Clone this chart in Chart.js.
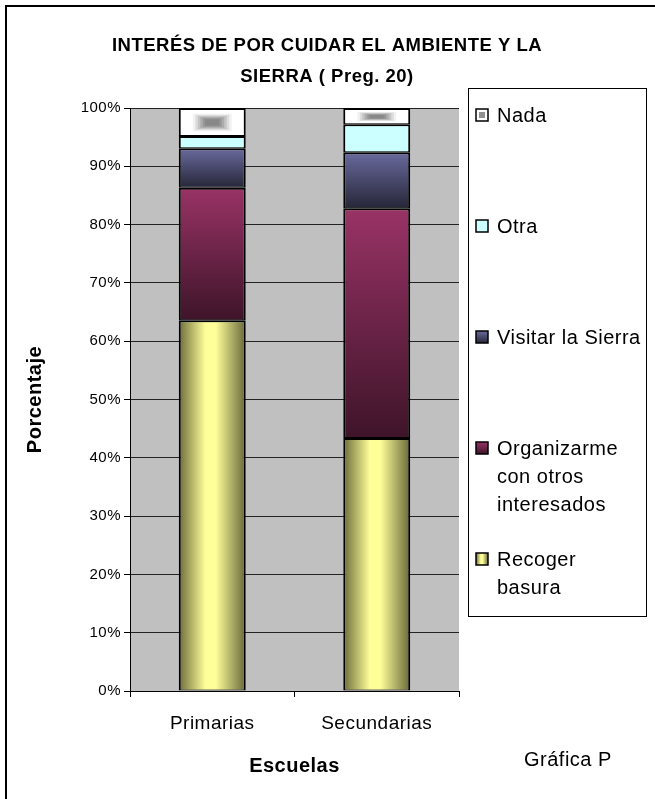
<!DOCTYPE html>
<html>
<head>
<meta charset="utf-8">
<script src="https://cdn.jsdelivr.net/npm/chart.js@4.4.1/dist/chart.umd.min.js"></script>
<style>
  html, body { margin: 0; padding: 0; background: #fff; }
  canvas { display: block; }
</style>
</head>
<body>
<canvas id="chart" width="655" height="799"></canvas>
<script>
// values (percent of each school)
const schools = ['Primarias', 'Secundarias'];
const recogerBasura = [63.6, 43.4];
const organizarme = [22.7, 39.4];
const visitarSierra = [6.8, 9.6];
const otra = [2.1, 4.8];
const nada = [4.8, 2.8];
const seriesNames = ['Recoger\nbasura', 'Organizarme\ncon otros\ninteresados', 'Visitar la Sierra', 'Otra', 'Nada'];
const titleLines = ['INTERÉS DE POR CUIDAR EL AMBIENTE Y LA', 'SIERRA ( Preg. 20)'];
const xTitle = 'Escuelas';
const yTitle = 'Porcentaje';
const footNote = 'Gráfica P';

const FONT = '"Liberation Sans", Arial, sans-serif';

// paint helpers, one per series
function yellowFill(ctx, l, t, r, b) {
  const g = ctx.createLinearGradient(l, 0, r, 0);
  g.addColorStop(0, '#6c6c3a');
  g.addColorStop(0.4, '#ffff99');
  g.addColorStop(0.55, '#ffff99');
  g.addColorStop(1, '#68683a');
  return g;
}
function maroonFill(ctx, l, t, r, b) {
  const g = ctx.createLinearGradient(0, t, 0, b);
  g.addColorStop(0, '#993366');
  g.addColorStop(1, '#3e1429');
  return g;
}
function blueFill(ctx, l, t, r, b) {
  const g = ctx.createLinearGradient(0, t, 0, b);
  g.addColorStop(0, '#6a6a9e');
  g.addColorStop(1, '#262638');
  return g;
}
function cyanFill() { return '#ccffff'; }
function whiteFill() { return '#ffffff'; }
const paints = [yellowFill, maroonFill, blueFill, cyanFill, whiteFill];

// greyish blurred block in the middle of the "Nada" pieces
function nadaSpot(ctx, l, t, r, b) {
  const cx = (l + r) / 2, cy = (t + b) / 2;
  const w = r - l, h = b - t;
  const steps = ['#f2f2f2', '#dcdcdc', '#c4c4c4', '#acacac', '#969696', '#888888'];
  steps.forEach((c, k) => {
    const fw = w * (0.62 - k * 0.08), fh = h * (0.7 - k * 0.09);
    ctx.fillStyle = c;
    ctx.fillRect(cx - fw / 2, cy - fh / 2, fw, fh);
  });
}

function setSpacing(ctx) {
  if ('letterSpacing' in ctx) ctx.letterSpacing = '0.5px';
}

const framePlugin = {
  id: 'frame',
  beforeUpdate(chart) { setSpacing(chart.ctx); },
  beforeDraw(chart) {
    const {ctx, chartArea: a} = chart;
    setSpacing(ctx);
    ctx.save();
    ctx.fillStyle = '#ffffff';
    ctx.fillRect(0, 0, chart.width, chart.height);
    ctx.fillStyle = '#c0c0c0';
    ctx.fillRect(a.left, a.top, a.right - a.left, a.bottom - a.top);
    ctx.restore();
  },
  beforeDatasetsDraw(chart) {
    const ctx = chart.ctx;
    chart.data.datasets.forEach((ds, i) => {
      chart.getDatasetMeta(i).data.forEach(el => {
        const l = el.x - el.width / 2, r = el.x + el.width / 2;
        const t = Math.min(el.y, el.base), b = Math.max(el.y, el.base);
        el.options = Object.assign({}, el.options, {backgroundColor: paints[i](ctx, l, t, r, b)});
      });
    });
  },
  afterDatasetsDraw(chart) {
    const ctx = chart.ctx;
    const last = chart.data.datasets.length - 1;
    ctx.save();
    chart.getDatasetMeta(last).data.forEach(el => {
      const l = el.x - el.width / 2 + 2, r = el.x + el.width / 2 - 2;
      const t = Math.min(el.y, el.base) + 2, b = Math.max(el.y, el.base) - 1;
      nadaSpot(ctx, l, t, r, b);
    });
    ctx.restore();
  },
  afterDraw(chart) {
    const ctx = chart.ctx;
    ctx.save();
    setSpacing(ctx);
    ctx.fillStyle = '#000';

    // title
    ctx.font = `bold 18.5px ${FONT}`;
    ctx.textAlign = 'center';
    ctx.textBaseline = 'alphabetic';
    ctx.fillText(titleLines[0], 327, 51);
    ctx.fillText(titleLines[1], 327, 82);

    // legend box
    ctx.lineWidth = 1;
    ctx.strokeStyle = '#000';
    ctx.strokeRect(468.5, 88.5, 178, 528);
    ctx.font = `20px ${FONT}`;
    ctx.textAlign = 'left';
    const n = chart.data.datasets.length;
    for (let k = 0; k < n; k++) {
      const i = n - 1 - k;
      const capY = 115 + k * 111;
      const sx = 476, sy = capY - 6, s = 12;
      ctx.fillStyle = paints[i](ctx, sx, sy, sx + s, sy + s);
      ctx.fillRect(sx, sy, s, s);
      if (i === n - 1) {
        ctx.fillStyle = '#909090';
        ctx.fillRect(sx + 3, sy + 3, s - 6, s - 6);
      }
      ctx.lineWidth = 1.5;
      ctx.strokeRect(sx, sy, s, s);
      ctx.fillStyle = '#000';
      seriesNames[i].split('\n').forEach((line, j) => {
        ctx.fillText(line, 497, capY + 7 + j * 28);
      });
    }

    // footnote
    ctx.font = `20px ${FONT}`;
    ctx.fillText(footNote, 524, 766);

    // outer frame (only top and left edges show in the picture)
    ctx.lineWidth = 2;
    ctx.beginPath();
    ctx.moveTo(6, 800);
    ctx.lineTo(6, 6);
    ctx.lineTo(656, 6);
    ctx.stroke();
    ctx.restore();
  }
};

const datasets = [recogerBasura, organizarme, visitarSierra, otra, nada].map((values, i) => ({
  label: seriesNames[i].replace(/\n/g, ' '),
  data: values,
  backgroundColor: '#ffffff',
  borderColor: '#000000',
  borderWidth: {top: 2, bottom: 1, left: 2, right: 2},
  borderSkipped: false,
  barPercentage: 1,
  categoryPercentage: 0.407
}));

new Chart(document.getElementById('chart'), {
  type: 'bar',
  data: {labels: schools, datasets},
  options: {
    responsive: false,
    animation: false,
    layout: {padding: {left: 0, top: 108, right: 196, bottom: 0}},
    plugins: {
      legend: {display: false},
      tooltip: {enabled: false}
    },
    scales: {
      x: {
        stacked: true,
        grid: {drawOnChartArea: false, tickLength: 6, color: '#000', tickColor: '#000'},
        border: {display: true, color: '#000', width: 1},
        ticks: {color: '#000', padding: 15, font: {family: FONT, size: 19}},
        title: {display: true, text: xTitle, color: '#000', padding: {top: 0, bottom: 21},
          font: {family: FONT, size: 20, weight: 'bold'}},
        afterFit(scale) { scale.height = 108; }
      },
      y: {
        stacked: true,
        min: 0,
        max: 100,
        grid: {color: '#222', tickLength: 6, tickColor: '#000'},
        border: {display: true, color: '#000', width: 1},
        ticks: {stepSize: 10, color: '#000', padding: 3, font: {family: FONT, size: 15},
          callback: v => v + '%'},
        title: {display: true, text: yTitle, color: '#000', padding: {top: 23, bottom: 0},
          font: {family: FONT, size: 20, weight: 'bold'}},
        afterFit(scale) { scale.width = 130; }
      }
    }
  },
  plugins: [framePlugin]
});
</script>
</body>
</html>
